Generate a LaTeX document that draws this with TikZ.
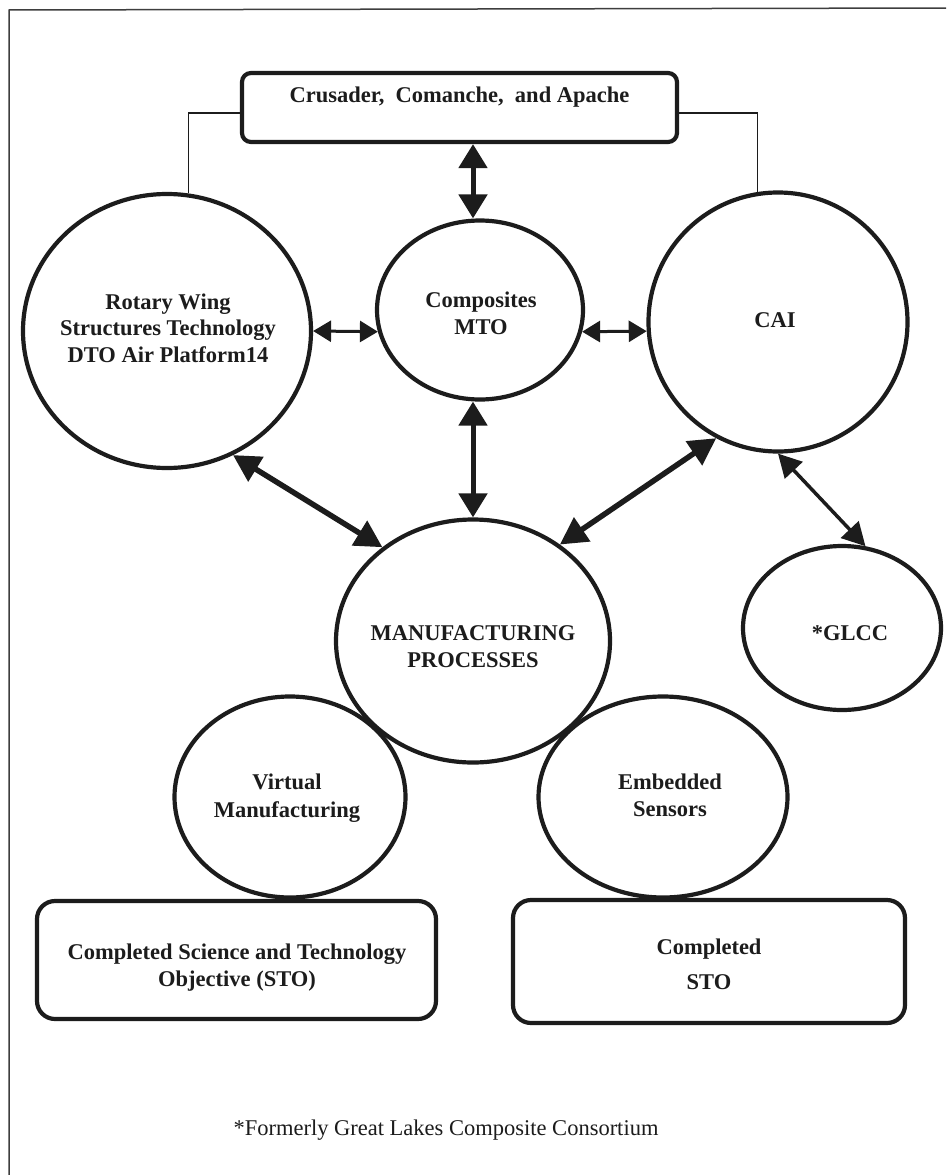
\documentclass[tikz,border=0pt]{standalone}
\usepackage{fontspec}
\setmainfont{Liberation Serif}
\usetikzlibrary{arrows.meta,shapes.geometric,calc}
\definecolor{ink}{RGB}{28,28,28}
\begin{document}
\begin{tikzpicture}[x=1pt,y=-1pt,
  ell/.style={draw=ink, line width=4.2pt, ellipse, inner sep=0pt},
  rbox/.style={draw=ink, line width=4.2pt, rectangle, inner sep=0pt, rounded corners=#1},
  lbl/.style={font=\fontsize{22.5}{27}\selectfont\bfseries, anchor=base, inner sep=0pt, text=ink},
  note/.style={font=\fontsize{22.5}{27}\selectfont, anchor=base, inner sep=0pt, text=ink},
  arrB/.style={draw=ink, line width=5.5pt, {Triangle[length=27pt,width=28pt]}-{Triangle[length=27pt,width=28pt]}},
  arrV/.style={draw=ink, line width=5pt, {Triangle[length=24pt,width=28pt]}-{Triangle[length=24pt,width=28pt]}},
  arrS/.style={draw=ink, line width=3pt, {Triangle[length=18pt,width=21pt]}-{Triangle[length=18pt,width=21pt]}},
  arrM/.style={draw=ink, line width=3.5pt, {Triangle[length=23pt,width=24pt]}-{Triangle[length=23pt,width=24pt]}},
  link/.style={draw=ink, line width=1.3pt}
]
\useasboundingbox (0,0) rectangle (946,1175);
\fill[white] (0,0) rectangle (946,1175);
\draw[draw=ink!85, line width=1.5pt] (9,1175) -- (9,10) -- (946,8);

% boxes
\node[rbox=9pt, minimum width=435pt, minimum height=69pt] (top) at (459.5,107.5) {};
\node[rbox=18pt, minimum width=399pt, minimum height=118pt] (box1) at (236.5,960) {};
\node[rbox=18pt, minimum width=392pt, minimum height=123pt] (box2) at (709,961.5) {};

% ellipses
\node[ell, minimum width=288pt, minimum height=274pt] (rot) at (167,331) {};
\node[ell, minimum width=206pt, minimum height=179pt] (comp) at (480,310) {};
\node[ell, minimum width=259pt, minimum height=259pt] (cai) at (778,322) {};
\node[ell, minimum width=274pt, minimum height=243pt] (manuf) at (473,641) {};
\node[ell, minimum width=198pt, minimum height=164pt] (glcc) at (842,628) {};
\node[ell, minimum width=231pt, minimum height=201pt] (virt) at (290,797) {};
\node[ell, minimum width=249pt, minimum height=201pt] (emb) at (663,797) {};

% labels
\node[lbl] (topT) at (459.5,102) {Crusader,\hspace{0.25em} Comanche,\hspace{0.25em} and Apache};
\node[lbl] (rotT1) at (168,309) {Rotary Wing};
\node[lbl] (rotT2) at (168,335) {Structures Technology};
\node[lbl] (rotT3) at (168,362) {DTO Air Platform14};
\node[lbl] (compT1) at (481,307) {Composites};
\node[lbl] (compT2) at (481,334) {MTO};
\node[lbl] (caiT) at (775,327) {CAI};
\node[lbl] (manT1) at (473,640) {MANUFACTURING};
\node[lbl] (manT2) at (473,667) {PROCESSES};
\node[lbl] (glccT) at (850,640) {*GLCC};
\node[lbl] (virtT1) at (287,789) {Virtual};
\node[lbl] (virtT2) at (287,817) {Manufacturing};
\node[lbl] (embT1) at (670,789) {Embedded};
\node[lbl] (embT2) at (670,816) {Sensors};
\node[lbl] (b1T1) at (237,959) {Completed Science and Technology};
\node[lbl] (b1T2) at (237,986) {Objective (STO)};
\node[lbl] (b2T1) at (709,954) {Completed};
\node[lbl] (b2T2) at (709,989) {STO};
\node[note] (foot) at (446,1135) {*Formerly Great Lakes Composite Consortium};

% connectors
\draw[link] ([yshift=-5.5pt]top.west) -| (rot.81);
\draw[link] ([yshift=-5.5pt]top.east) -| (cai.99);
\draw[arrV] (top.south -| manuf.north) -- (comp.north -| manuf.north);
\draw[arrV] (manuf.north |- comp.south) -- (manuf.north);
\draw[arrS] (rot.east) -- (comp.192);
\draw[arrS] (comp.-12) -- (cai.184);
\draw[arrB] (rot.-62) -- (manuf.134);
\draw[arrB] (cai.242) -- (manuf.48);
\draw[arrM] (cai.-90) -- (glcc.74);
\end{tikzpicture}
\end{document}
